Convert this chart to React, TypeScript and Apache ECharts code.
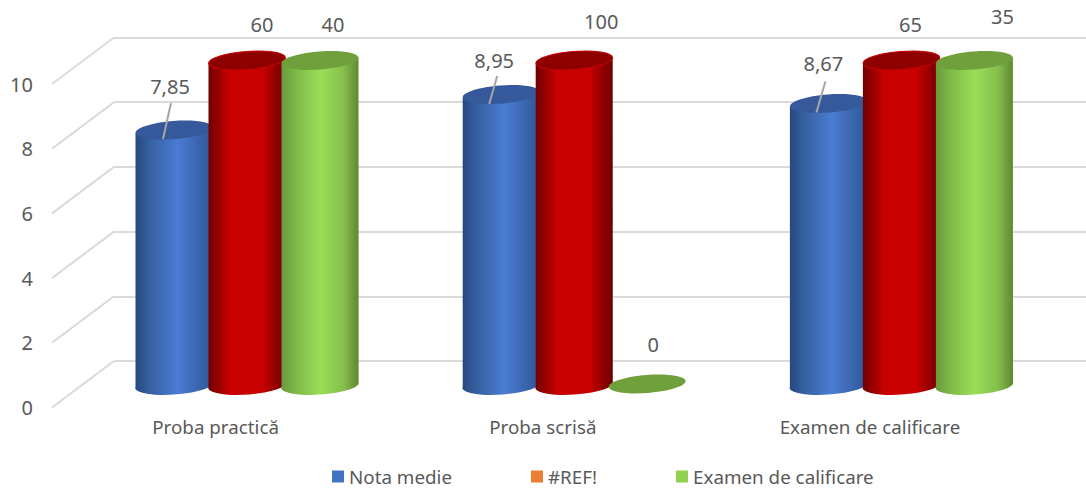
import React, { useEffect, useRef } from "react";
import * as echarts from "echarts";

const categories = ["Proba practică", "Proba scrisă", "Examen de calificare"];
const notaMedie = [7.85, 8.95, 8.67];
const refValues = [60, 100, 65];
const examen = [40, 0, 35];
const tickValues = [0, 2, 4, 6, 8, 10];
const axisMax = 10;
const tickStep = 2;

const FONT = '"Noto Sans", sans-serif';
const TEXT = "#595959";
const GRID = "#dadada";
const BAND = 327.2;
const BAR_STEP = 73;
const RX = 38.5;
const RY = 9;
const TILT = (4.3 * Math.PI) / 180;
const DEPTH_X = 62;
const DEPTH_Y = 46.5;

type Look = {
  stops: [number, string][];
  top: string;
  rim?: string;
  labelOffsets: number[][];
  leaders?: number[][][];
};

const blueLook: Look = {
  stops: [[0, "#27477f"], [0.18, "#35609f"], [0.55, "#4a7cd2"], [0.8, "#3b66b0"], [1, "#2f5597"]],
  top: "#35599a",
  labelOffsets: [[-4, -44], [-7, -33.5], [-5, -40]],
  leaders: [
    [[-3, -27], [-11, 9]],
    [[-4, -18.5], [-12, 9.5]],
    [[-3, -22], [-12, 9]],
  ],
};
const redLook: Look = {
  stops: [[0, "#6e0000"], [0.28, "#c80000"], [0.7, "#c80000"], [0.95, "#7a0000"], [1, "#6e0000"]],
  top: "#8e0000",
  rim: "#c80000",
  labelOffsets: [[15, -36.5], [27, -39.5], [9, -36.5]],
};
const greenLook: Look = {
  stops: [[0, "#6a9a3c"], [0.2, "#80ba48"], [0.5, "#9ade58"], [0.8, "#86c04c"], [1, "#5e8832"]],
  top: "#70a03c",
  labelOffsets: [[13, -36.5], [6, -40], [28, -44.5]],
};

function cylinderSeries(name: string, values: number[], legendColor: string, look: Look, slot: number) {
  return {
    name,
    type: "custom",
    xAxisIndex: 2,
    yAxisIndex: 2,
    z: 5,
    itemStyle: { color: legendColor },
    data: values.map((v, i) => [i, v]),
    encode: { x: 0, y: 1 },
    renderItem: (_p: any, api: any) => {
      const i = api.value(0);
      const v = api.value(1);
      const [cx0, topY] = api.coord([i, Math.min(v, axisMax)]);
      const [, baseY] = api.coord([i, 0]);
      const cx = cx0 + slot * BAR_STEP;
      const dy = Math.sin(TILT) * RX;
      const l = cx - RX;
      const r = cx + RX;
      const children: any[] = [];
      if (v > 0) {
        const d =
          `M${l} ${topY + dy} L${l} ${baseY + dy} ` +
          `A${RX} ${RY} -4.3 0 0 ${r} ${baseY - dy} L${r} ${topY - dy} Z`;
        children.push({
          type: "path",
          shape: { pathData: d },
          style: {
            fill: {
              type: "linear", x: 0, y: 0, x2: 1, y2: 0,
              colorStops: look.stops.map(([offset, color]) => ({ offset, color })),
            },
          },
        });
      }
      children.push({
        type: "ellipse",
        x: cx,
        y: topY,
        rotation: TILT,
        shape: { cx: 0, cy: 0, rx: RX, ry: RY },
        style: { fill: look.top, stroke: look.rim || "none", lineWidth: look.rim ? 1 : 0 },
      });
      const leader = look.leaders && look.leaders[i];
      if (leader) {
        children.push({
          type: "line",
          shape: {
            x1: cx + leader[0][0], y1: topY + leader[0][1],
            x2: cx + leader[1][0], y2: topY + leader[1][1],
          },
          style: { stroke: "#a6a6a6", lineWidth: 2 },
        });
      }
      const off = look.labelOffsets[i];
      children.push({
        type: "text",
        style: {
          text: String(v).replace(".", ","),
          x: cx + off[0],
          y: topY + off[1],
          fill: TEXT,
          font: `20px ${FONT}`,
          align: "center",
          verticalAlign: "middle",
        },
      });
      return { type: "group", children };
    },
  };
}

export default function App() {
  const ref = useRef<HTMLDivElement>(null);
  useEffect(() => {
    document.body.style.margin = "0";
    const chart = echarts.init(ref.current!, null, { renderer: "svg" });
    chart.setOption({
      animation: false,
      backgroundColor: "#ffffff",
      textStyle: { fontFamily: FONT },
      grid: [
        { left: 114, right: 0, top: 37.5, height: 323.5 },
        { left: 52, width: BAND * 3, top: 84, height: 323.5 },
        { left: 83.4, width: BAND * 3, top: 60.5, height: 323.5 },
      ],
      xAxis: [
        { gridIndex: 0, type: "category", data: categories, show: false },
        {
          gridIndex: 1,
          type: "category",
          data: categories,
          axisLine: { show: false },
          axisTick: { show: false },
          axisLabel: { color: TEXT, fontSize: 18.8, margin: 10, fontFamily: FONT, interval: 0 },
        },
        { gridIndex: 2, type: "category", data: categories, show: false },
      ],
      yAxis: [
        {
          gridIndex: 0, type: "value", min: 0, max: axisMax, interval: tickStep,
          axisLine: { show: false }, axisTick: { show: false }, axisLabel: { show: false },
          splitLine: { show: true, lineStyle: { color: GRID, width: 2 } },
        },
        {
          gridIndex: 1, type: "value", min: 0, max: axisMax, interval: tickStep,
          axisLine: { show: false }, axisTick: { show: false }, splitLine: { show: false },
          axisLabel: { color: TEXT, fontSize: 20, margin: 19, fontFamily: FONT },
        },
        { gridIndex: 2, type: "value", min: 0, max: axisMax, interval: tickStep, show: false, splitLine: { show: false } },
      ],
      legend: {
        left: 332,
        top: 467,
        padding: 0,
        itemWidth: 12,
        itemHeight: 12,
        itemGap: 79,
        selectedMode: false,
        icon: "rect",
        textStyle: { color: TEXT, fontSize: 18.8, lineHeight: 19, fontFamily: FONT },
        data: ["Nota medie", "#REF!", "Examen de calificare"],
      },
      series: [
        {
          type: "custom",
          xAxisIndex: 1,
          yAxisIndex: 1,
          z: 1,
          silent: true,
          data: tickValues.map((t) => [0, t]),
          encode: { x: 0, y: 1 },
          renderItem: (_p: any, api: any) => {
            const [x, y] = api.coord([api.value(0), api.value(1)]);
            const left = x - api.size([1, 0])[0] / 2;
            return {
              type: "line",
              shape: { x1: left, y1: y, x2: left + DEPTH_X, y2: y - DEPTH_Y },
              style: { stroke: GRID, lineWidth: 2 },
            };
          },
        },
        cylinderSeries("Nota medie", notaMedie, "#4472c4", blueLook, -1),
        cylinderSeries("#REF!", refValues, "#ed7d31", redLook, 0),
        cylinderSeries("Examen de calificare", examen, "#92d050", greenLook, 1),
      ],
    });
    return () => chart.dispose();
  }, []);
  return <div ref={ref} style={{ width: 1086, height: 489 }} />;
}
